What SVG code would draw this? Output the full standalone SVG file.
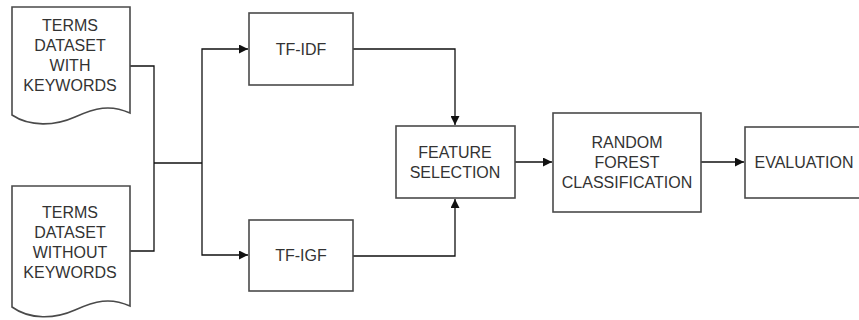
<svg xmlns="http://www.w3.org/2000/svg" width="859" height="320" viewBox="0 0 859 320">
<defs>
<style>
.box{fill:#fff;stroke:#4a4a4a;stroke-width:1.6}
.t{font-family:"Liberation Sans",Arial,sans-serif;font-size:16px;fill:#333;text-anchor:middle;dominant-baseline:central}
.c{fill:none;stroke:#111;stroke-width:1.3}
</style>
<marker id="ah" viewBox="0 0 10 10" refX="10" refY="5" markerWidth="9" markerHeight="9" markerUnits="userSpaceOnUse" orient="auto">
<path d="M0,0 L10,5 L0,10 z" fill="#111"/>
</marker>
</defs>
<rect width="859" height="320" fill="#fff"/>
<g id="connectors">
<path class="c" d="M130,66 H154 V251 H130"/>
<path class="c" d="M154,163 H202"/>
<path class="c" d="M202,163 V49 H248" marker-end="url(#ah)"/>
<path class="c" d="M202,163 V255 H248" marker-end="url(#ah)"/>
<path class="c" d="M353,49 H455 V125" marker-end="url(#ah)"/>
<path class="c" d="M353,256 H455 V199" marker-end="url(#ah)"/>
<path class="c" d="M515,162 H552" marker-end="url(#ah)"/>
<path class="c" d="M701,162 H744" marker-end="url(#ah)"/>
</g>
<g id="doc1">
<path class="box" d="M12,7 H130 V113 C110,104 95,108 75,117 C55,126 30,127 12,115 Z"/>
<text class="t" x="70" y="25">TERMS</text>
<text class="t" x="70" y="45">DATASET</text>
<text class="t" x="70" y="65">WITH</text>
<text class="t" x="70" y="85">KEYWORDS</text>
</g>
<g id="doc2">
<path class="box" d="M12,186 H130 V306 C110,297 95,301 75,310 C55,319 30,320 12,307 Z"/>
<text class="t" x="70" y="212">TERMS</text>
<text class="t" x="70" y="232">DATASET</text>
<text class="t" x="70" y="252">WITHOUT</text>
<text class="t" x="70" y="272">KEYWORDS</text>
</g>
<g id="tfidf">
<rect class="box" x="249" y="13" width="104" height="72"/>
<text class="t" x="301" y="49">TF-IDF</text>
</g>
<g id="tfigf">
<rect class="box" x="249" y="220" width="104" height="71"/>
<text class="t" x="301" y="255">TF-IGF</text>
</g>
<g id="feature">
<rect class="box" x="396" y="126" width="119" height="72"/>
<text class="t" x="455" y="152">FEATURE</text>
<text class="t" x="455" y="172">SELECTION</text>
</g>
<g id="rfc">
<rect class="box" x="553" y="113" width="148" height="99"/>
<text class="t" x="627" y="142">RANDOM</text>
<text class="t" x="627" y="162">FOREST</text>
<text class="t" x="627" y="182">CLASSIFICATION</text>
</g>
<g id="eval">
<rect class="box" x="745" y="127" width="130" height="71"/>
<text class="t" x="804" y="162">EVALUATION</text>
</g>
</svg>
